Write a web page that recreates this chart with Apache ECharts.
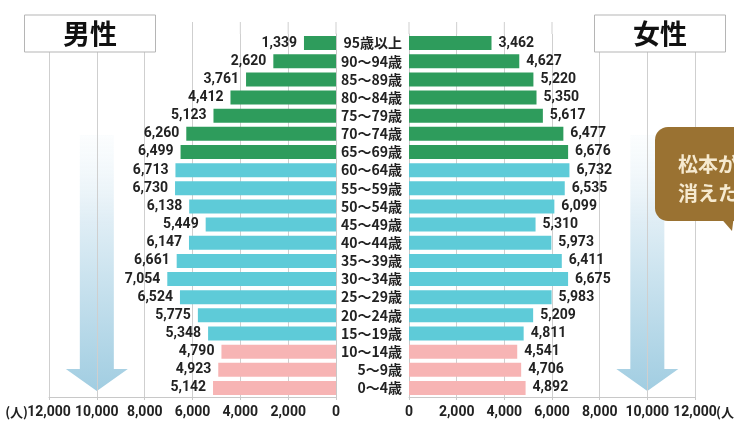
<!DOCTYPE html>
<html><head><meta charset="utf-8">
<script src="https://cdn.jsdelivr.net/npm/echarts@6/dist/echarts.min.js"></script>
<style>html,body{margin:0;padding:0;background:#fff}#c{width:734px;height:425px}</style>
</head><body><div id="c"></div>
<script>
// categories bottom -> top
const categories = ['0～4歳','5～9歳','10～14歳','15～19歳','20～24歳','25～29歳','30～34歳','35～39歳','40～44歳','45～49歳','50～54歳','55～59歳','60～64歳','65～69歳','70～74歳','75～79歳','80～84歳','85～89歳','90～94歳','95歳以上'];
const male = [5142,4923,4790,5348,5775,6524,7054,6661,6147,5449,6138,6730,6713,6499,6260,5123,4412,3761,2620,1339];
const female = [4892,4706,4541,4811,5209,5983,6675,6411,5973,5310,6099,6535,6732,6676,6477,5617,5350,5220,4627,3462];
const xTicks = [0,2000,4000,6000,8000,10000,12000];

const PINK='#f7b4b4', CYAN='#5ecbd8', GREEN='#2e9c5c';
function colorFor(i){ return i<=2?PINK:(i<=12?CYAN:GREEN); }
const fmt = v => v.toLocaleString('en-US');
const NUMFONT = 'Roboto, "DejaVu Sans", sans-serif';
const CJK = '"Noto Sans CJK JP", sans-serif';

const chart = echarts.init(document.getElementById('c'));
const gridTop=34, gridH=363;
const axisCommon = {
  type:'value', min:0, max:12000, interval:2000,
  axisLine:{show:true,lineStyle:{color:'#c8c8c8'}},
  axisTick:{show:true,length:3,lineStyle:{color:'#c8c8c8'}},
  splitLine:{show:true,lineStyle:{color:'#cfcfcf',width:1}},
  axisLabel:{color:'#222',fontFamily:NUMFONT,fontWeight:'bold',fontSize:14,margin:8}
};
chart.setOption({
  animation:false,
  grid:[{left:49,width:287,top:gridTop,height:gridH},{left:409,width:286,top:gridTop,height:gridH}],
  xAxis:[
    Object.assign({},axisCommon,{gridIndex:0,inverse:true,axisLabel:Object.assign({},axisCommon.axisLabel,{formatter:v=>fmt(v)})}),
    Object.assign({},axisCommon,{gridIndex:1,axisLabel:Object.assign({},axisCommon.axisLabel,{formatter:v=>fmt(v)})})
  ],
  yAxis:[
    {type:'category',gridIndex:0,data:categories,position:'right',
     axisLine:{lineStyle:{color:'#c8c8c8'}},axisTick:{length:3,lineStyle:{color:'#c8c8c8'}},axisLabel:{show:false}},
    {type:'category',gridIndex:1,data:categories,position:'left',
     axisLine:{lineStyle:{color:'#c8c8c8'}},axisTick:{length:3,lineStyle:{color:'#c8c8c8'}},
     axisLabel:{interval:0,color:'#222',fontFamily:CJK,fontWeight:'bold',fontSize:14,margin:7,lineHeight:16}}
  ],
  series:[
    {type:'bar',xAxisIndex:0,yAxisIndex:0,barWidth:14,
     data:male.map((v,i)=>({value:v,itemStyle:{color:colorFor(i)}})),
     label:{show:true,position:'left',distance:7,formatter:p=>fmt(p.value),color:'#222',fontFamily:NUMFONT,fontWeight:'bold',fontSize:14}},
    {type:'bar',xAxisIndex:1,yAxisIndex:1,barWidth:14,
     data:female.map((v,i)=>({value:v,itemStyle:{color:colorFor(i)}})),
     label:{show:true,position:'right',distance:7,formatter:p=>fmt(p.value),color:'#222',fontFamily:NUMFONT,fontWeight:'bold',fontSize:14}}
  ]
});

// decorations
const g = [];
// extend gridlines upward
xTicks.forEach(v=>{
  const xl = chart.convertToPixel({xAxisIndex:0},v);
  const xr = chart.convertToPixel({xAxisIndex:1},v);
  [xl,xr].forEach(x=>g.push({type:'line',z:1,shape:{x1:x,y1:22,x2:x,y2:gridTop},style:{stroke:'#cfcfcf',lineWidth:1}}));
});
// arrows
function arrow(cx){
  return {type:'polygon',z:-10,shape:{points:[[cx-17,135],[cx+17,135],[cx+17,369],[cx+31,369],[cx,391],[cx-31,369],[cx-17,369]]},
    style:{opacity:0.88,fill:new echarts.graphic.LinearGradient(0,0,0,1,[{offset:0,color:'rgba(240,247,251,0.3)'},{offset:0.35,color:'#d9eaf3'},{offset:1,color:'#94c6dd'}])}};
}
g.push(arrow(chart.convertToPixel({xAxisIndex:0},10000)));
g.push(arrow(chart.convertToPixel({xAxisIndex:1},10000)));
// title boxes
function titleBox(x,text){
  g.push({type:'rect',z:5,shape:{x:x,y:15,width:131,height:37},style:{fill:'#fff',stroke:'#b5b5b5',lineWidth:1}});
  g.push({type:'text',z:6,style:{x:x+65.5,y:34,text:text,align:'center',verticalAlign:'middle',font:'bold 27px "Noto Sans CJK JP", sans-serif',fill:'#111'}});
}
titleBox(24.5,'男性');
titleBox(594.5,'女性');
// axis unit labels
const yLab = gridTop+gridH+15;
g.push({type:'text',z:6,style:{x:chart.convertToPixel({xAxisIndex:0},12000)-21,y:yLab,text:'(人)',align:'right',verticalAlign:'middle',font:'bold 13px "Noto Sans CJK JP", sans-serif',fill:'#222'}});
g.push({type:'text',z:6,style:{x:chart.convertToPixel({xAxisIndex:1},12000)+21,y:yLab,text:'(人)',align:'left',verticalAlign:'middle',font:'bold 13px "Noto Sans CJK JP", sans-serif',fill:'#222'}});
// callout
g.push({type:'polygon',z:7,shape:{points:[[718,215],[732,231],[734,215]]},style:{fill:'#9a7232'}});
g.push({type:'rect',z:7,shape:{x:655,y:127,width:120,height:94,r:13},style:{fill:'#9a7232'}});
g.push({type:'text',z:8,style:{x:678,y:164,text:'松本が',verticalAlign:'middle',font:'bold 20px "Noto Sans CJK JP", sans-serif',fill:'#f6ead0'}});
g.push({type:'text',z:8,style:{x:678,y:193,text:'消えた',verticalAlign:'middle',font:'bold 20px "Noto Sans CJK JP", sans-serif',fill:'#f6ead0'}});
chart.setOption({graphic:g});
</script></body></html>
